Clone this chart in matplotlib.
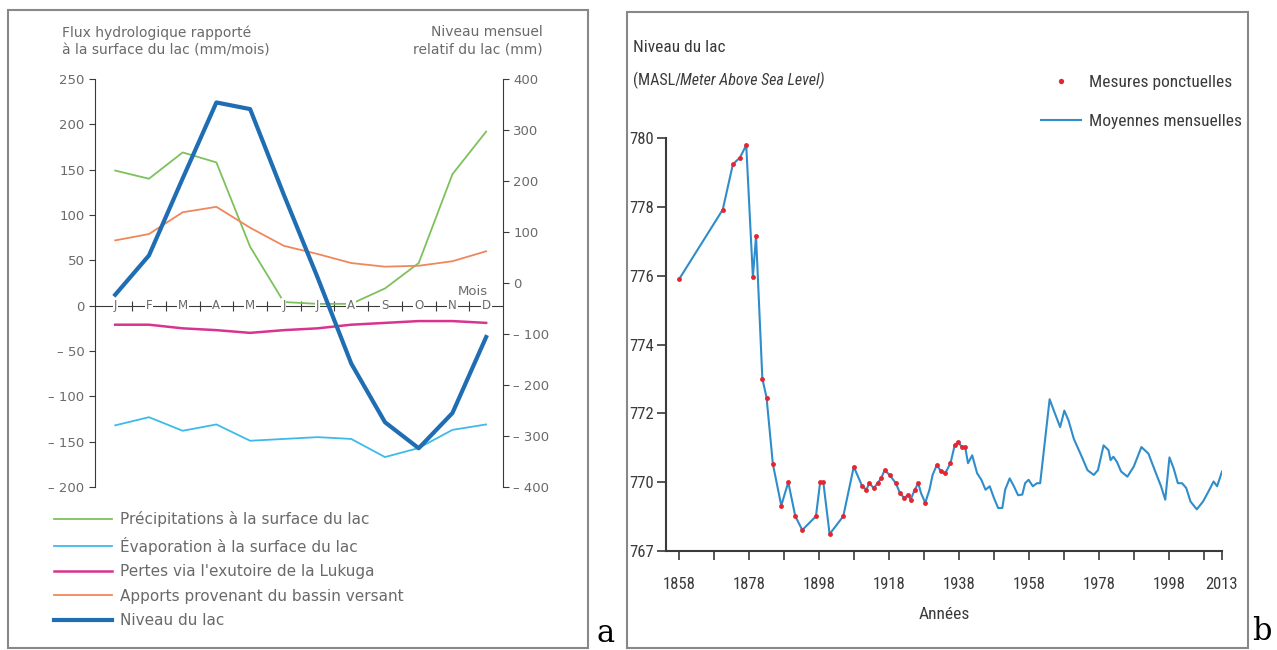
import matplotlib.pyplot as plt
from matplotlib import font_manager
from matplotlib.patches import Rectangle

# --- panel a : monthly water balance of the lake ---
months = ['J', 'F', 'M', 'A', 'M', 'J', 'J', 'A', 'S', 'O', 'N', 'D']
precip = [149, 140, 169, 158, 65, 4, 2, 2, 19, 47, 145, 192]
evap = [-132, -123, -138, -131, -149, -147, -145, -147, -167, -157, -137, -131]
lukuga = [-21, -21, -25, -27, -30, -27, -25, -21, -19, -17, -17, -19]
runoff = [72, 79, 103, 109, 86, 66, 57, 47, 43, 44, 49, 60]
level = [-23, 54, 205, 354, 341, 173, 11, -158, -273, -324, -255, -106]

left_ticks = [250, 200, 150, 100, 50, 0, -50, -100, -150, -200]
left_labels = ['250', '200', '150', '100', '50', '0', '– 50', '– 100', '– 150', '– 200']
right_ticks = [400, 300, 200, 100, 0, -100, -200, -300, -400]
right_labels = ['400', '300', '200', '100', '0', '– 100', '– 200', '– 300', '– 400']

# --- panel b : lake level 1858-2013 ---
years = [1858, 1870.5, 1873.4, 1875.4, 1877.2, 1879.1, 1880.0, 1881.8, 1883.0, 1884.8,
         1887.2, 1889.2, 1891.2, 1893.2, 1897.1, 1898.3, 1899.2, 1901.0, 1904.9, 1907.9,
         1910.3, 1911.5, 1912.3, 1913.6, 1914.7, 1915.7, 1916.7, 1918.1, 1919.9, 1921.1,
         1922.3, 1923.5, 1924.1, 1925.3, 1926.3, 1927.1, 1928.3, 1929.5, 1930.4, 1931.6,
         1932.8, 1934.0, 1935.5, 1936.7, 1937.6, 1938.8, 1939.7, 1940.5, 1941.7, 1943.1,
         1944.3, 1945.5, 1946.7, 1947.9, 1949.1, 1950.3, 1951.1, 1952.4, 1953.6, 1954.8,
         1956.0, 1956.8, 1957.8, 1959.0, 1960.2, 1961.1, 1963.8, 1965.0, 1966.8, 1968.0,
         1969.2, 1970.7, 1972.8, 1974.6, 1976.4, 1977.6, 1979.2, 1980.6, 1981.2, 1982.0,
         1983.0, 1984.2, 1986.0, 1987.8, 1990.0, 1992.0, 1993.8, 1995.6, 1996.8, 1998.0,
         1999.2, 2000.4, 2001.6, 2002.8, 2004.0, 2005.8, 2007.6, 2009.4, 2010.6, 2011.6,
         2013.0]
levels = [775.89, 777.92, 779.24, 779.43, 779.79, 775.96, 777.15, 773.01, 772.46, 770.53,
          769.32, 770.0, 769.01, 768.61, 769.01, 770.0, 770.0, 768.49, 769.01, 770.45,
          769.88, 769.78, 769.97, 769.83, 769.97, 770.11, 770.35, 770.21, 769.97, 769.68,
          769.54, 769.64, 769.49, 769.78, 769.97, 769.68, 769.40, 769.78, 770.21, 770.50,
          770.31, 770.26, 770.55, 771.07, 771.17, 771.02, 771.02, 770.55, 770.78, 770.26,
          770.07, 769.78, 769.88, 769.54, 769.25, 769.25, 769.78, 770.11, 769.88, 769.62,
          769.64, 769.97, 770.07, 769.88, 769.97, 769.97, 772.41, 772.08, 771.60, 772.08,
          771.79, 771.26, 770.78, 770.35, 770.21, 770.35, 771.07, 770.93, 770.64, 770.74,
          770.59, 770.31, 770.16, 770.45, 771.02, 770.83, 770.35, 769.88, 769.49, 770.72,
          770.40, 769.97, 769.97, 769.83, 769.44, 769.21, 769.44, 769.78, 770.02, 769.88,
          770.31]
point_years = [1858, 1870.5, 1873.4, 1875.4, 1877.2, 1879.1, 1880.0, 1881.8, 1883.0, 1884.8,
               1887.2, 1889.2, 1891.2, 1893.2, 1897.1, 1898.3, 1899.2, 1901.0, 1904.9, 1907.9,
               1910.3, 1911.5, 1912.3, 1913.6, 1914.7, 1915.7, 1916.7, 1918.1, 1919.9, 1921.1,
               1922.3, 1923.5, 1924.1, 1925.3, 1926.3, 1928.3, 1931.6, 1932.8, 1934.0, 1935.5,
               1936.7, 1937.6, 1938.8, 1939.7]
point_levels = [775.89, 777.92, 779.24, 779.43, 779.79, 775.96, 777.15, 773.01, 772.46, 770.53,
                769.32, 770.0, 769.01, 768.61, 769.01, 770.0, 770.0, 768.49, 769.01, 770.45,
                769.88, 769.78, 769.97, 769.83, 769.97, 770.11, 770.35, 770.21, 769.97, 769.68,
                769.54, 769.64, 769.49, 769.78, 769.97, 769.40, 770.50, 770.31, 770.26, 770.55,
                771.07, 771.17, 771.02, 771.02]
year_ticks = [1858, 1878, 1898, 1918, 1938, 1958, 1978, 1998, 2013]
minor_year_ticks = [1868, 1888, 1908, 1928, 1948, 1968, 1988, 2008]
level_ticks = [768, 770, 772, 774, 776, 778, 780]
level_labels = ['767', '770', '772', '774', '776', '778', '780']

# pick a narrow face for panel b if one is installed
installed = {f.name for f in font_manager.fontManager.ttflist}
narrow = 'DejaVu Sans'
shrink = 0.85
for name in ['Liberation Sans Narrow', 'Roboto Condensed', 'Open Sans Condensed',
             'Noto Sans Condensed', 'DejaVu Sans Condensed']:
    if name in installed:
        narrow, shrink = name, 1.0
        break

W, H = 1277, 650
fig = plt.figure(figsize=(W / 100, H / 100), dpi=100)
grey = '#6a6a6a'
dark = '#3a3a3a'

def fx(px):
    return px / W

def fy(py):
    return 1 - py / H

# frames around the two panels
fig.add_artist(Rectangle((fx(8), fy(648)), fx(580), 638 / H, transform=fig.transFigure,
                         fill=False, edgecolor='#888888', lw=1.5))
fig.add_artist(Rectangle((fx(627), fy(648)), fx(621), 636 / H, transform=fig.transFigure,
                         fill=False, edgecolor='#888888', lw=1.5))

# ---------------- panel a ----------------
ax = fig.add_axes([fx(95), fy(487), fx(408), (487 - 79) / H])
x = list(range(12))
c_precip, c_evap, c_luk, c_run, c_lvl = '#7dc15c', '#3dbbe8', '#d8348f', '#f0875c', '#1f6db3'
h1, = ax.plot(x, precip, color=c_precip, lw=1.3)
h2, = ax.plot(x, evap, color=c_evap, lw=1.3)
h3, = ax.plot(x, lukuga, color=c_luk, lw=1.8)
h4, = ax.plot(x, runoff, color=c_run, lw=1.3)
ax.set_xlim(-0.6, 11.5)
ax.set_ylim(-200, 250)
ax2 = ax.twinx()
h5, = ax2.plot(x, level, color=c_lvl, lw=3)
ax2.set_ylim(-400, 400)

for a in (ax, ax2):
    a.spines['top'].set_visible(False)
    a.patch.set_visible(False)
ax.spines['right'].set_visible(False)
ax2.spines['left'].set_visible(False)
ax2.spines['bottom'].set_visible(False)
ax.spines['left'].set_color(dark)
ax2.spines['right'].set_color(dark)
ax.spines['bottom'].set_position(('data', 0))
ax.spines['bottom'].set_color(dark)

ax.set_yticks(left_ticks)
ax.set_yticklabels(left_labels)
ax2.set_yticks(right_ticks)
ax2.set_yticklabels(right_labels)
ax.tick_params(axis='y', length=4, color=dark, labelcolor=grey, labelsize=9.5)
ax2.tick_params(axis='y', length=4, color=dark, labelcolor=grey, labelsize=9.5)
ax.set_xticks([i + 0.5 for i in range(11)])
ax.tick_params(axis='x', direction='inout', length=7, color=dark, labelbottom=False)
for i, m in enumerate(months):
    ax.text(i, 0, m, ha='center', va='center', fontsize=8.5, color=grey,
            bbox=dict(facecolor='white', edgecolor='none', pad=0.6))
ax.text(10.6, 9, 'Mois', ha='center', va='bottom', fontsize=9.5, color=grey)

fig.text(fx(62), fy(25), 'Flux hydrologique rapporté\nà la surface du lac (mm/mois)',
         ha='left', va='top', fontsize=10, color=grey, linespacing=1.35)
fig.text(fx(543), fy(25), 'Niveau mensuel\nrelatif du lac (mm)',
         ha='right', va='top', fontsize=10, color=grey, linespacing=1.35)

fig.legend([h1, h2, h3, h4, h5],
           ['Précipitations à la surface du lac', 'Évaporation à la surface du lac',
            "Pertes via l'exutoire de la Lukuga", 'Apports provenant du bassin versant',
            'Niveau du lac'],
           loc='upper left', bbox_to_anchor=(fx(48), fy(505)), frameon=False,
           fontsize=11, handlelength=3.8, handletextpad=0.5, labelspacing=0.62,
           borderaxespad=0, labelcolor=grey)

fig.text(fx(606), fy(634), 'a', fontsize=22, family='DejaVu Serif', ha='center', va='center')
fig.text(fx(1262), fy(632), 'b', fontsize=22, family='DejaVu Serif', ha='center', va='center')

# ---------------- panel b ----------------
bx = fig.add_axes([fx(666), fy(551), fx(556), (551 - 138) / H])
bl, = bx.plot(years, levels, color='#2f8dcb', lw=1.5)
bp, = bx.plot(point_years, point_levels, 'o', color='#e3262f', ms=3.5, mec='none', ls='none')
bx.set_xlim(1854.3, 2013)
bx.set_ylim(768, 780)
bx.spines['top'].set_visible(False)
bx.spines['right'].set_visible(False)
for s in ('left', 'bottom'):
    bx.spines[s].set_color(dark)
    bx.spines[s].set_linewidth(1.5)
bx.set_yticks(level_ticks)
bx.set_yticklabels(level_labels, family=narrow)
bx.set_xticks(year_ticks)
bx.set_xticklabels([str(y) for y in year_ticks], family=narrow)
bx.set_xticks(minor_year_ticks, minor=True)
bx.tick_params(axis='both', which='both', length=6.5, width=1.2, color=dark,
               labelcolor=dark, labelsize=12 * shrink)
bx.tick_params(axis='x', pad=12)
bx.tick_params(axis='y', pad=2)
bx.set_xlabel('Années', fontsize=12.5 * shrink, color=dark, labelpad=11, family=narrow)

fig.text(fx(633), fy(47), 'Niveau du lac', ha='left', va='center', fontsize=12.5 * shrink,
         color=dark, family=narrow)
t0 = fig.text(fx(633), fy(80), '(MASL/', ha='left', va='center', fontsize=11.5 * shrink,
              color=dark, family=narrow)
fig.canvas.draw()
bb = t0.get_window_extent()
fig.text((bb.x1 - 1) / W, fy(80), 'Meter Above Sea Level)', ha='left', va='center',
         fontsize=11.5 * shrink, color=dark, family=narrow, style='italic')

bx.legend([bp, bl], ['Mesures ponctuelles', 'Moyennes mensuelles'],
          loc='upper left', bbox_to_anchor=(fx(1034), fy(68)),
          bbox_transform=fig.transFigure, frameon=False,
          handlelength=2.3, handletextpad=0.45, labelspacing=1.35,
          borderaxespad=0, labelcolor=dark, markerscale=1.1,
          prop={'family': narrow, 'size': 12.5 * shrink})

fig.savefig('out.png', dpi=100)
